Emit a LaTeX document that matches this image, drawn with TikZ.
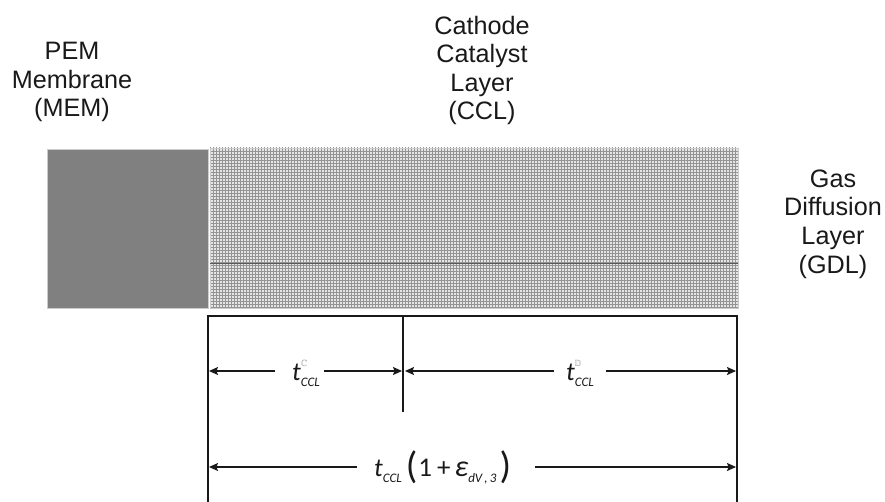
\documentclass[tikz,border=0pt]{standalone}
\usepackage{fontspec}
\usepackage{amssymb}
\setmainfont{Liberation Sans}
\newfontfamily\carl{Carlito}
\usetikzlibrary{patterns,arrows.meta}
\newcommand\eqit[1]{{\carl\itshape\fontsize{26}{26}\selectfont #1}}
\newcommand\eqsub[1]{\raisebox{-6pt}{\carl\itshape\fontsize{13}{13}\selectfont #1}}
\newcommand\eqsup[1]{\rlap{\raisebox{14pt}{\color{black!45}\fontsize{9}{9}\selectfont$#1$}}}
\begin{document}
\begin{tikzpicture}[x=1pt,y=-1pt,
  lbl/.style={align=center,font=\fontsize{25.2}{28.5}\selectfont,inner sep=0pt,text=black!90},
  memblk/.style={fill=black!50,draw=black!20,line width=0.6pt,inner sep=0pt,outer sep=0pt},
  cclblk/.style={preaction={fill=black!10},pattern=grid,pattern color=black!42,draw=black!20,line width=0.4pt,inner sep=0pt,outer sep=0pt},
  dim/.style={line width=1.6pt,black!90},
  arr/.style={line width=1.2pt,black!90,-{Stealth[length=9pt,width=8pt,inset=1.5pt]}},
  eq/.style={inner sep=0pt,text=black!90}]
\useasboundingbox (0,0) rectangle (885,502);

% labels (base = last line)
\node[lbl,anchor=base] (ccl) at (482,120) {Cathode\\Catalyst\\Layer\\(CCL)};
\node[lbl,anchor=base] (mem) at (72,117) {PEM\\Membrane\\(MEM)};
\node[lbl,anchor=base] (gdl) at (833,273) {Gas\\Diffusion\\Layer\\(GDL)};

% layers
\node[memblk,minimum width=161pt,minimum height=159pt] (memblock) at (127.5,228.5) {};
\node[cclblk,minimum width=528pt,minimum height=160pt] (cclblock) at (474,228) {};
\coordinate (hl) at (210,263);
\coordinate (hr) at (738,263);
\draw[black!65,line width=0.7pt] (hl) -- (hr);

% dimension frame
\coordinate (bl) at (208,503);
\coordinate (tl) at (208,316);
\coordinate (tm) at (403,316);
\coordinate (bm) at (403,412);
\coordinate (tr) at (737,316);
\coordinate (br) at (737,503);
\draw[dim] (bl) -- (tl) -- (tr) -- (br);
\draw[dim] (tm) -- (bm);

% row 1
\coordinate (a1l) at (209,371);
\coordinate (a1m) at (402,371);
\coordinate (a2m) at (405,371);
\coordinate (a2r) at (736,371);
\node[eq,anchor=base west] (t1) at (292,380) {\eqit{t}\eqsup{\mathbb{C}}\eqsub{CCL}};
\node[eq,anchor=base west] (t2) at (566,380) {\eqit{t}\eqsup{\mathbb{D}}\eqsub{CCL}};
\draw[arr] ([xshift=-17pt]t1.west |- a1l) -- (a1l);
\draw[arr] ([xshift=4pt]t1.east |- a1m) -- (a1m);
\draw[arr] ([xshift=-12pt]t2.west |- a2m) -- (a2m);
\draw[arr] ([xshift=12pt]t2.east |- a2r) -- (a2r);

% row 2
\coordinate (b1l) at (209,467);
\coordinate (b1r) at (736,467);
\node[eq,anchor=base west] (t3) at (374,476) {\eqit{t}\eqsub{CCL}\hspace{4pt}{\carl\fontsize{38}{38}\selectfont\raisebox{-2pt}{(}}\hspace{1pt}{\carl\fontsize{27}{27}\selectfont 1}\hspace{5pt}{\carl\fontsize{27}{27}\selectfont +}\hspace{4pt}{\carl\itshape\fontsize{30}{30}\selectfont ε}\eqsub{dV\,,\,3}\hspace{3pt}{\carl\fontsize{38}{38}\selectfont\raisebox{-2pt}{)}}};
\draw[arr] ([xshift=-17pt]t3.west |- b1l) -- (b1l);
\draw[arr] ([xshift=24pt]t3.east |- b1r) -- (b1r);
\end{tikzpicture}
\end{document}
